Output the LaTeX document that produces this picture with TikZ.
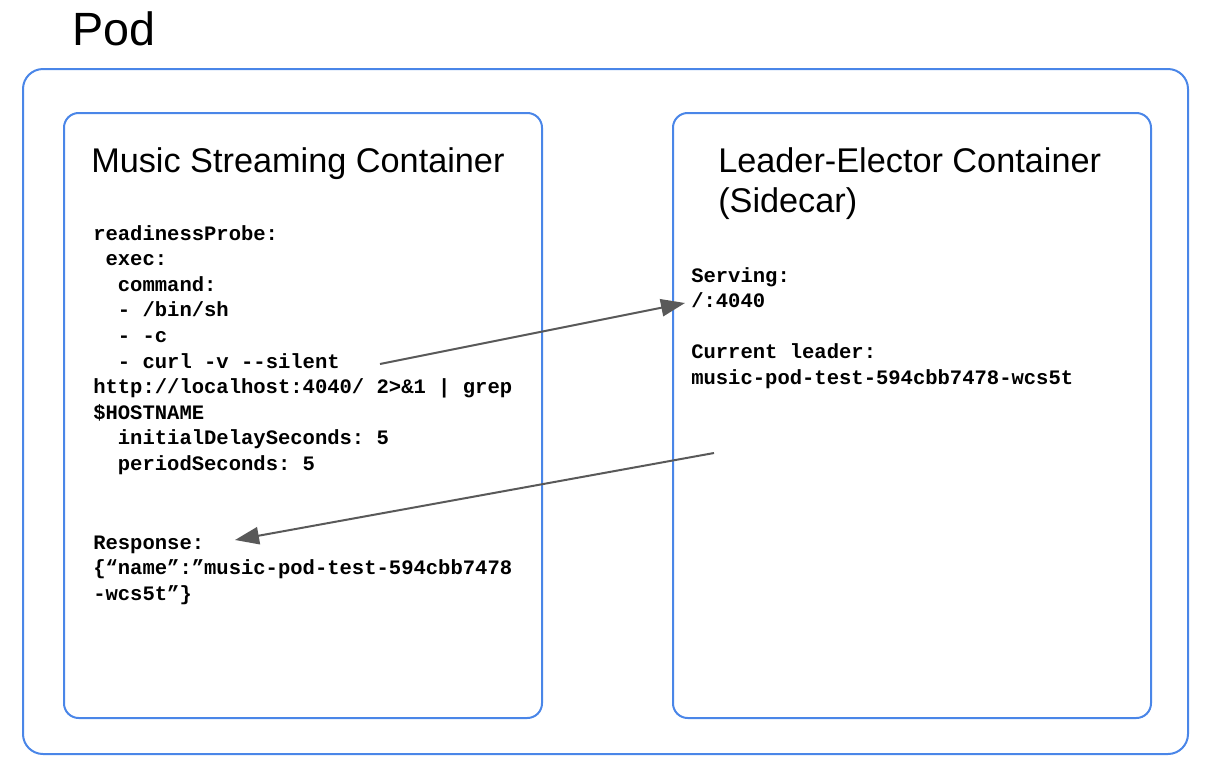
\documentclass[tikz,border=0pt]{standalone}
\usepackage{fontspec}
\setmainfont{Liberation Sans}
\setmonofont{Liberation Mono}
\usetikzlibrary{arrows.meta}
\definecolor{podblue}{HTML}{4A86E8}
\definecolor{arrowgray}{HTML}{595959}
\tikzset{
  boxline/.style={draw=podblue, line width=1.5pt},
  titletext/.style={anchor=base west, inner sep=0pt, align=left, font=\fontsize{25.7}{30}\selectfont},
  codetext/.style={anchor=base west, inner sep=0pt, align=left, font=\ttfamily\bfseries\fontsize{15.4}{19.2}\selectfont},
  flow/.style={draw=arrowgray, line width=1.5pt, -{Triangle[length=18pt,width=13pt]}}
}
\begin{document}
\begin{tikzpicture}[x=0.75pt,y=0.75pt,yscale=-1,xscale=1]
  \useasboundingbox (0,0) rectangle (1208,772);
  % Pod
  \draw [boxline, rounded corners=15pt] (23,69) rectangle (1188,754);
  \node [anchor=base west, inner sep=0pt, font=\fontsize{35}{40}\selectfont] (podlabel) at (72,45) {Pod};
  % Containers
  \draw [boxline, rounded corners=11pt] (64,113) rectangle (542,718);
  \draw [boxline, rounded corners=11pt] (673,113) rectangle (1151,718);
  % Text Node (base = last line)
  \node [titletext] (musictitle) at (91,172) {Music Streaming Container};
  % Text Node
  \node [titletext] (leadertitle) at (718,212) {Leader-Elector Container\\(Sidecar)};
  % Text Node
  \node [codetext] (probe) at (93,470.4) {readinessProbe:\\
~exec:\\
~~command:\\
~~- /bin/sh\\
~~- -c\\
~~- curl -v --silent\\
http://localhost:4040/ 2>\&1 | grep\\
\$HOSTNAME\\
~~initialDelaySeconds: 5\\
~~periodSeconds: 5};
  % Text Node
  \node [codetext] (response) at (93,600.2) {Response:\\
\{“name”:”music-pod-test-594cbb7478\\
-wcs5t”\}};
  % Text Node
  \node [codetext] (serving) at (691,384.4) {Serving:\\
/:4040\\[19.2pt]
Current leader:\\
music-pod-test-594cbb7478-wcs5t};
  % Arrows
  \coordinate (curlend) at (380,364);
  \coordinate (servingport) at (685,303);
  \coordinate (leaderout) at (714,453);
  \coordinate (responsein) at (235,540);
  \draw [flow] (curlend) -- (servingport);
  \draw [flow] (leaderout) -- (responsein);
\end{tikzpicture}
\end{document}
